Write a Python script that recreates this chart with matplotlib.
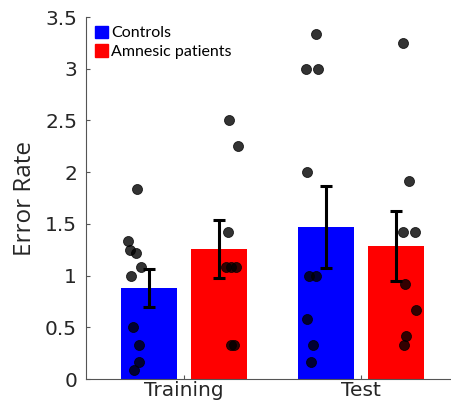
import numpy as np
import matplotlib
matplotlib.use('Agg')
import matplotlib.pyplot as plt
from matplotlib.patches import Patch

plt.rcParams['font.family'] = ['DejaVu Sans']

groups = ['Training', 'Test']
series = ['Controls', 'Amnesic patients']
colors = ['#0000ff', '#ff0000']

means = [[0.877, 1.47], [1.257, 1.289]]
err_lo = [[0.693, 1.076], [0.977, 0.948]]
err_hi = [[1.061, 1.870], [1.538, 1.628]]

# individual subjects: values and horizontal jitter (relative to bar centre)
pts = [
    [[1.833, 1.333, 1.25, 1.217, 1.083, 1.0, 0.5, 0.333, 0.167, 0.083],
     [3.333, 3.0, 3.0, 2.0, 1.0, 1.0, 0.583, 0.333, 0.167]],
    [[2.5, 2.25, 1.417, 1.083, 1.083, 1.083, 0.333, 0.333],
     [3.25, 1.917, 1.417, 1.417, 0.917, 0.667, 0.417, 0.333]],
]
jit = [
    [[-0.064, -0.115, -0.105, -0.075, -0.042, -0.100, -0.090, -0.056, -0.053, -0.084],
     [-0.056, -0.113, -0.045, -0.109, -0.094, -0.056, -0.105, -0.071, -0.081]],
    [[0.058, 0.109, 0.054, 0.041, 0.069, 0.096, 0.069, 0.086],
     [0.039, 0.076, 0.042, 0.110, 0.054, 0.114, 0.058, 0.046]],
]

fig = plt.figure(figsize=(4.51, 4.05), dpi=100)
ax = fig.add_axes([0.191, 0.064, 0.807, 0.894])

xpos = np.arange(1, len(groups) + 1)
offs = [-0.198, 0.198]
w = 0.316

for s in range(2):
    xs = xpos + offs[s]
    ax.bar(xs, means[s], width=w, color=colors[s], zorder=1)
    lo = np.array(means[s]) - np.array(err_lo[s])
    hi = np.array(err_hi[s]) - np.array(means[s])
    ax.errorbar(xs, means[s], yerr=[lo, hi], fmt='none', ecolor='black',
                elinewidth=2.2, capsize=4, capthick=2.2, zorder=3)
    for g in range(2):
        x = xs[g] + np.array(jit[s][g])
        ax.scatter(x, pts[s][g], s=52, color='black', alpha=0.8,
                   linewidths=0.6, zorder=2)

ax.set_xlim(0.448, 2.504)
ax.set_ylim(0, 3.5)
ax.set_xticks(xpos)
ax.set_xticklabels(groups, fontsize=14.5, color='#262626')
ax.set_yticks(np.arange(0, 3.51, 0.5))
ax.set_yticklabels(['0', '0.5', '1', '1.5', '2', '2.5', '3', '3.5'],
                   fontsize=14.5, color='#262626')
ax.tick_params(direction='in', length=3, color='#555555')
ax.tick_params(axis='y', pad=6.5)
ax.tick_params(axis='x', pad=1.5)
ax.set_ylabel('Error Rate', fontsize=17.5, color='#262626', labelpad=6,
              family=['Open Sans', 'DejaVu Sans'])
for sp in ['top', 'right']:
    ax.spines[sp].set_visible(False)
for sp in ['left', 'bottom']:
    ax.spines[sp].set_color('#555555')

handles = [Patch(color=c, label=l) for c, l in zip(colors, series)]
ax.legend(handles=handles, loc='upper left', frameon=False,
          handlelength=0.8, handleheight=0.8, handletextpad=0.2,
          borderaxespad=0.15, labelspacing=0.25,
          prop={'family': ['Lato', 'DejaVu Sans'], 'size': 11.5})

fig.savefig('out.png', dpi=100)
